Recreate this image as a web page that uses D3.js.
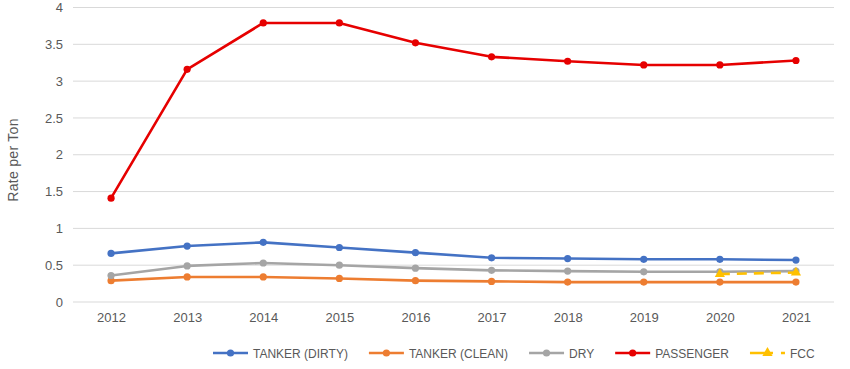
<!DOCTYPE html>
<html>
<head>
<meta charset="utf-8">
<script src="https://cdn.jsdelivr.net/npm/d3@7"></script>
<style>
  body { margin: 0; background: #fff; }
  text { font-family: "Liberation Sans", Arial, sans-serif; }
</style>
</head>
<body>
<div id="chart"></div>
<script>
// data
let years = ["2012", "2013", "2014", "2015", "2016", "2017", "2018", "2019", "2020", "2021"];
let tankerDirty = [0.66, 0.76, 0.81, 0.74, 0.67, 0.60, 0.59, 0.58, 0.58, 0.57];
let tankerClean = [0.29, 0.34, 0.34, 0.32, 0.29, 0.28, 0.27, 0.27, 0.27, 0.27];
let dry = [0.36, 0.49, 0.53, 0.50, 0.46, 0.43, 0.42, 0.41, 0.41, 0.42];
let passenger = [1.41, 3.16, 3.79, 3.79, 3.52, 3.33, 3.27, 3.22, 3.22, 3.28];
let fcc = [null, null, null, null, null, null, null, null, 0.38, 0.40];
let yTicks = [0, 0.5, 1, 1.5, 2, 2.5, 3, 3.5, 4];

let series = [
    { name: "TANKER (DIRTY)", values: tankerDirty, color: "#4472C4", marker: "circle" },
    { name: "TANKER (CLEAN)", values: tankerClean, color: "#ED7D31", marker: "circle" },
    { name: "DRY", values: dry, color: "#A5A5A5", marker: "circle" },
    { name: "PASSENGER", values: passenger, color: "#E60000", marker: "circle" },
    { name: "FCC", values: fcc, color: "#FFC000", marker: "triangle", dash: "10,7" }
];

let width = 850, height = 369;
let margin = { top: 7.5, right: 16, bottom: 67, left: 73 };

let svg = d3.select("#chart").append("svg")
    .attr("width", width)
    .attr("height", height);

let x = d3.scalePoint()
    .domain(years)
    .range([margin.left, width - margin.right])
    .padding(0.5);
let y = d3.scaleLinear()
    .domain([0, 4])
    .range([height - margin.bottom, margin.top]);

// gridlines
svg.append("g")
    .selectAll("line")
    .data(yTicks)
    .enter()
    .append("line")
    .attr("x1", margin.left)
    .attr("x2", width - margin.right)
    .attr("y1", d => y(d))
    .attr("y2", d => y(d))
    .attr("stroke", "#D9D9D9")
    .attr("stroke-width", 1);

// y axis labels
let yAxis = svg.append("g")
    .attr("transform", "translate(" + (margin.left - 10) + ",0)")
    .call(d3.axisLeft(y).tickValues(yTicks).tickFormat(d => String(d)).tickSize(0).tickPadding(0));
yAxis.select(".domain").remove();
yAxis.selectAll("text")
    .attr("fill", "#595959")
    .style("font-size", "13px")
    .style("font-family", "'Liberation Sans', Arial, sans-serif");

// x axis labels
let xAxis = svg.append("g")
    .attr("transform", "translate(0," + (height - margin.bottom + 11) + ")")
    .call(d3.axisBottom(x).tickSize(0).tickPadding(0));
xAxis.select(".domain").remove();
xAxis.selectAll("text")
    .attr("fill", "#595959")
    .style("font-size", "13px")
    .style("font-family", "'Liberation Sans', Arial, sans-serif");

// y axis title
svg.append("text")
    .attr("transform", "translate(18,160) rotate(-90)")
    .style("text-anchor", "middle")
    .style("font-size", "14px")
    .style("letter-spacing", "0.3px")
    .attr("fill", "#595959")
    .text("Rate per Ton");

let line = d3.line()
    .defined(d => d != null)
    .x((d, i) => x(years[i]))
    .y(d => y(d));

let triangle = d3.symbol().type(d3.symbolTriangle).size(45);

series.forEach(function(s) {
    let g = svg.append("g");
    g.append("path")
        .datum(s.values)
        .attr("fill", "none")
        .attr("stroke", s.color)
        .attr("stroke-width", 2.6)
        .attr("stroke-linejoin", "round")
        .attr("stroke-dasharray", s.dash || null)
        .attr("d", line);

    let pts = s.values.map((v, i) => ({ v: v, year: years[i] })).filter(d => d.v != null);
    if (s.marker === "circle") {
        g.selectAll("circle")
            .data(pts)
            .enter()
            .append("circle")
            .attr("cx", d => x(d.year))
            .attr("cy", d => y(d.v))
            .attr("r", 3.6)
            .attr("fill", s.color);
    } else {
        g.selectAll(".tri")
            .data(pts)
            .enter()
            .append("path")
            .attr("class", "tri")
            .attr("transform", d => "translate(" + x(d.year) + "," + y(d.v) + ")")
            .attr("d", triangle)
            .attr("fill", s.color);
    }
});

// legend
let legend = svg.append("g")
    .attr("transform", "translate(213," + 353 + ")");
let lx = 0;
series.forEach(function(s) {
    let item = legend.append("g").attr("transform", "translate(" + lx + ",0)");
    item.append("line")
        .attr("x1", 0).attr("x2", 35)
        .attr("y1", 0).attr("y2", 0)
        .attr("stroke", s.color)
        .attr("stroke-width", 2.6)
        .attr("stroke-dasharray", s.dash ? "23,8" : null);
    if (s.marker === "circle") {
        item.append("circle").attr("cx", 17.5).attr("cy", 0).attr("r", 3.6).attr("fill", s.color);
    } else {
        item.append("path").attr("transform", "translate(17.5,0)").attr("d", triangle).attr("fill", s.color);
    }
    let t = item.append("text")
        .attr("x", 40)
        .attr("y", 4.5)
        .style("font-size", "12px")
        .attr("fill", "#595959")
        .text(s.name);
    lx += 40 + t.node().getComputedTextLength() + 21;
});
</script>
</body>
</html>
